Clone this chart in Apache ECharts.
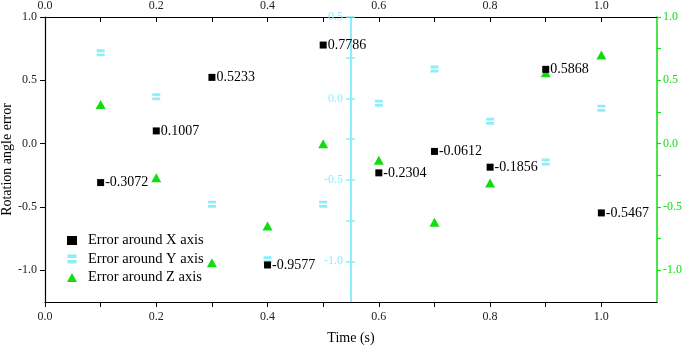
<!DOCTYPE html>
<html>
<head>
<meta charset="utf-8">
<script src="https://cdn.jsdelivr.net/npm/echarts@6/dist/echarts.min.js"></script>
<style>
  html, body { margin: 0; padding: 0; background: #fff; }
  #chart { width: 685px; height: 347px; }
</style>
</head>
<body>
<div id="chart"></div>
<script>
// time points (s)
const times = [0.1, 0.2, 0.3, 0.4, 0.5, 0.6, 0.7, 0.8, 0.9, 1.0];
// rotation angle error around each axis
const errX = [-0.3072, 0.1007, 0.5233, -0.9577, 0.7786, -0.2304, -0.0612, -0.1856, 0.5868, -0.5467];
const errY = [0.28, 0.01, -0.65, -0.99, -0.65, -0.03, 0.18, -0.14, -0.39, -0.06];
const errZ = [0.31, -0.27, -0.94, -0.65, 0.0, -0.13, -0.62, -0.31, 0.56, 0.70];

const xTicks = [0, 0.1, 0.2, 0.3, 0.4, 0.5, 0.6, 0.7, 0.8, 0.9, 1.0];
const xLabels = [0, 0.2, 0.4, 0.6, 0.8, 1.0];
const leftLabels = [-1, -0.5, 0, 0.5, 1];
const midLabels = [-1, -0.5, 0, 0.5];
const midTicks = [-1, -0.75, -0.5, -0.25, 0, 0.25, 0.5];
const rightTicks = [-1, -0.75, -0.5, -0.25, 0, 0.25, 0.5, 0.75, 1];

const font = "Liberation Serif";
const black = "#000";
const cyan = "#8CEEFA";
const green = "#11DD11";

const fmt = v => v.toFixed(1);
const pair = ys => times.map((t, i) => [t, ys[i]]);

const chart = echarts.init(document.getElementById("chart"));

const xBase = {
  type: "value",
  min: 0,
  max: 1.1,
  axisLine: { show: true, onZero: false, lineStyle: { color: black, width: 1.2 } },
  axisTick: { show: true, customValues: xTicks, length: 5, lineStyle: { color: black } },
  axisLabel: { customValues: xLabels, formatter: fmt, fontFamily: font, fontSize: 12, color: "#222" },
  splitLine: { show: false }
};

// the cyan axis sits at t = 0.55, halfway across the grid
const midOffset = -306;

chart.setOption({
  animation: false,
  grid: { left: 45, right: 28, top: 17, bottom: 45, containLabel: false, outerBoundsMode: "none" },
  legend: {
    orient: "vertical",
    left: 62,
    top: 228,
    itemWidth: 10,
    itemHeight: 9,
    itemGap: 3.5,
    textStyle: { fontFamily: font, fontSize: 14.5, color: black, padding: [0, 0, 0, 6] },
    data: ["Error around X axis", "Error around Y axis", "Error around Z axis"]
  },
  xAxis: [
    Object.assign({}, xBase, {
      position: "bottom",
      name: "Time (s)",
      nameLocation: "middle",
      nameGap: 29,
      nameTextStyle: { fontFamily: font, fontSize: 14, color: black },
      axisLabel: Object.assign({}, xBase.axisLabel, { margin: 9 })
    }),
    Object.assign({}, xBase, {
      position: "top",
      axisTick: Object.assign({}, xBase.axisTick, { inside: true }),
      axisLabel: Object.assign({}, xBase.axisLabel, { margin: 5 })
    })
  ],
  yAxis: [
    {
      type: "value",
      position: "left",
      min: -1.25,
      max: 1.0,
      name: "Rotation angle error",
      nameLocation: "middle",
      nameGap: 31,
      nameMoveOverlap: false,
      nameTextStyle: { fontFamily: font, fontSize: 14, color: black },
      axisLine: { show: true, onZero: false, lineStyle: { color: black, width: 1.2 } },
      axisTick: { show: true, customValues: leftLabels, length: 5, lineStyle: { color: black } },
      axisLabel: { customValues: leftLabels, formatter: fmt, fontFamily: font, fontSize: 12, color: "#222", margin: 8 },
      splitLine: { show: false }
    },
    {
      type: "value",
      position: "left",
      offset: midOffset,
      min: -1.25,
      max: 0.5,
      axisLine: { show: true, onZero: false, lineStyle: { color: cyan, width: 2 } },
      axisTick: { show: true, customValues: midTicks, length: 5, lineStyle: { color: cyan, width: 1.5 } },
      axisLabel: {
        customValues: midLabels, showMaxLabel: true, showMinLabel: true, hideOverlap: false,
        formatter: fmt, fontFamily: font, fontSize: 12, color: cyan, margin: 8
      },
      splitLine: { show: false }
    },
    {
      // right-hand half of the cyan crossing ticks
      type: "value",
      position: "right",
      offset: midOffset,
      min: -1.25,
      max: 0.5,
      axisLine: { show: false },
      axisTick: { show: true, customValues: midTicks, length: 4, lineStyle: { color: cyan, width: 1.5 } },
      axisLabel: { show: false },
      splitLine: { show: false }
    },
    {
      type: "value",
      position: "right",
      min: -1.25,
      max: 1.0,
      axisLine: { show: true, onZero: false, lineStyle: { color: green, width: 1.5 } },
      axisTick: { show: true, customValues: rightTicks, length: 4, lineStyle: { color: green, width: 1.2 } },
      axisLabel: { customValues: leftLabels, formatter: fmt, fontFamily: font, fontSize: 12, color: green, margin: 6 },
      splitLine: { show: false }
    }
  ],
  series: [
    {
      name: "Error around Y axis",
      type: "scatter",
      yAxisIndex: 1,
      symbol: "path://M0,0H10V4H0Z M0,6H10V10H0Z",
      symbolSize: [8, 7],
      itemStyle: { color: cyan, opacity: 1 },
      data: pair(errY)
    },
    {
      name: "Error around Z axis",
      type: "scatter",
      yAxisIndex: 3,
      symbol: "triangle",
      symbolSize: [10, 9],
      itemStyle: { color: green, opacity: 1 },
      data: pair(errZ)
    },
    {
      name: "Error around X axis",
      type: "scatter",
      yAxisIndex: 0,
      symbol: "rect",
      symbolSize: 7,
      itemStyle: { color: black, opacity: 1 },
      label: {
        show: true,
        position: "right",
        distance: 1,
        fontFamily: font,
        fontSize: 14,
        color: black,
        formatter: p => p.value[1].toFixed(4)
      },
      data: pair(errX)
    }
  ]
});
</script>
</body>
</html>
